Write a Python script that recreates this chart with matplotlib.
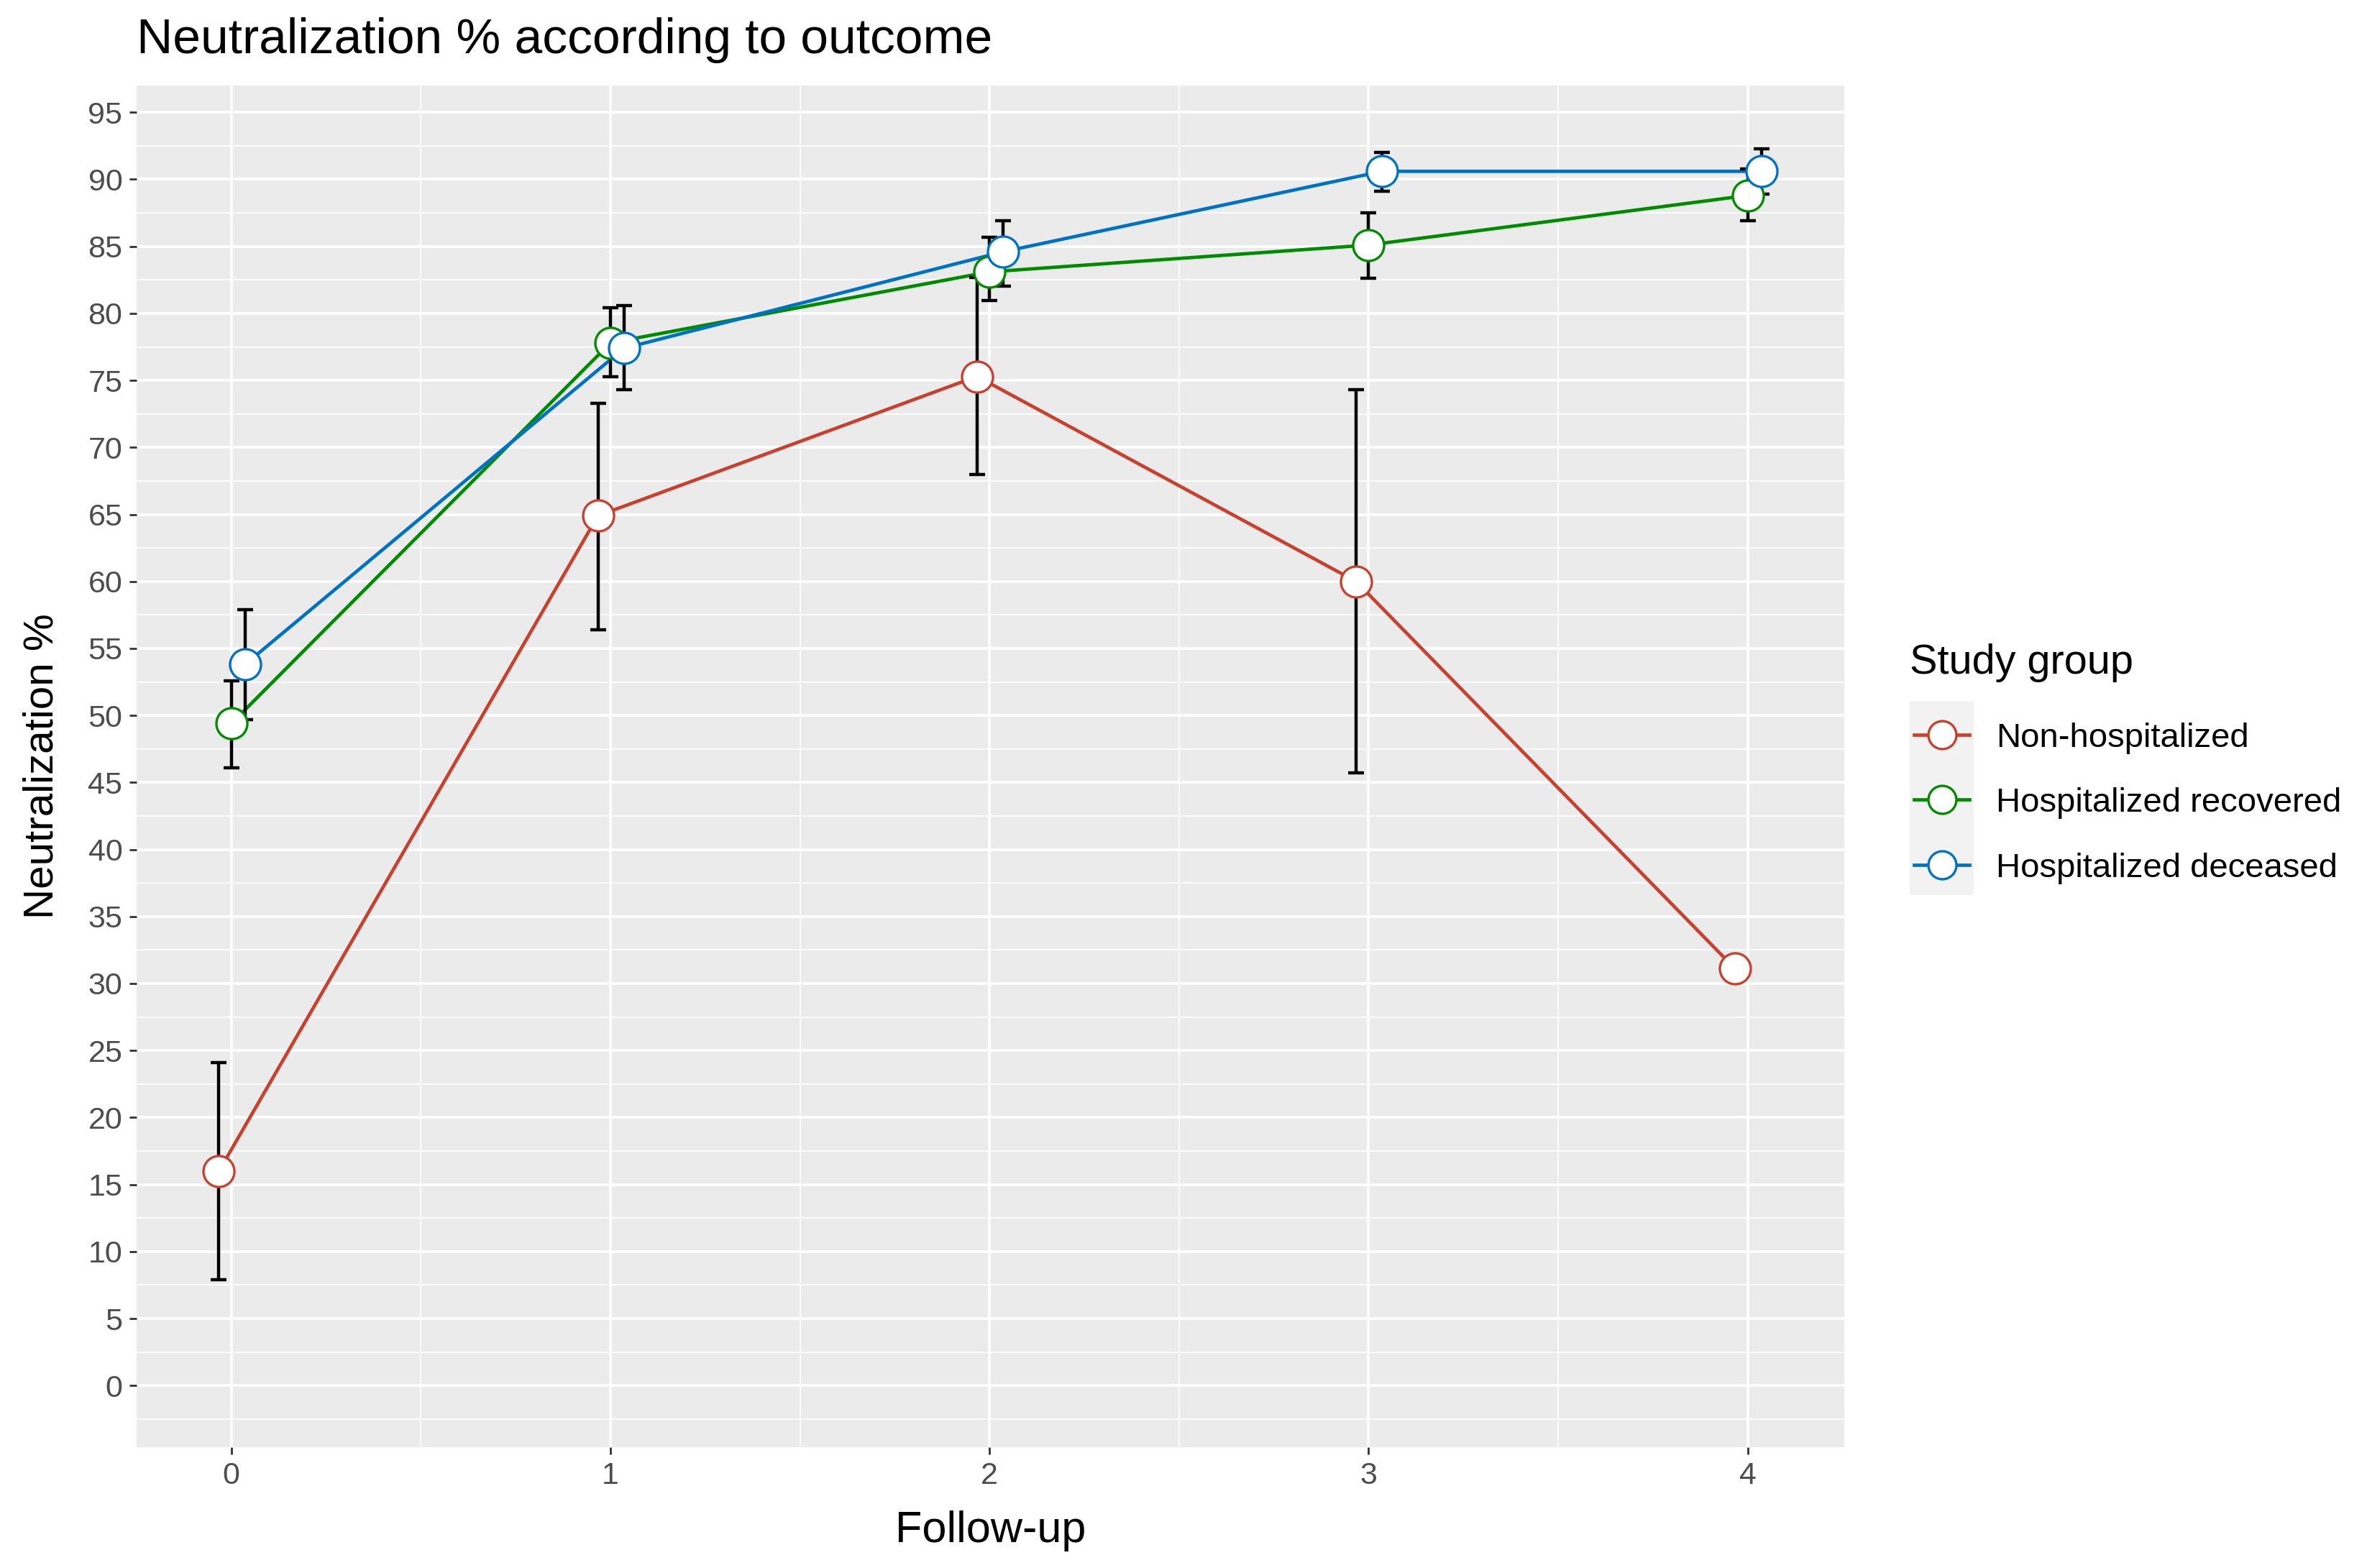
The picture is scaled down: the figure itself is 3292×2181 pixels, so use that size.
import matplotlib
matplotlib.use("Agg")
import matplotlib.pyplot as plt
from matplotlib.lines import Line2D
from matplotlib.patches import Rectangle
from matplotlib.ticker import MultipleLocator

plt.rcParams['font.family'] = ['Liberation Sans', 'DejaVu Sans']

# data
follow_up = [0, 1, 2, 3, 4]
groups = ["Non-hospitalized", "Hospitalized recovered", "Hospitalized deceased"]
colors = ["#C8412F", "#008B00", "#0072C6"]
dodge = [-0.033, 0.0, 0.036]

non_hosp = [16.0, 64.9, 75.3, 60.0, 31.1]
non_hosp_lo = [7.9, 56.4, 68.0, 45.7, None]
non_hosp_hi = [24.1, 73.3, 82.7, 74.3, None]

hosp_rec = [49.4, 77.8, 83.1, 85.1, 88.8]
hosp_rec_lo = [46.1, 75.3, 80.95, 82.6, 86.9]
hosp_rec_hi = [52.6, 80.4, 85.7, 87.5, 90.8]

hosp_dec = [53.8, 77.4, 84.6, 90.6, 90.6]
hosp_dec_lo = [49.7, 74.3, 82.05, 89.1, 88.9]
hosp_dec_hi = [57.9, 80.6, 86.9, 92.0, 92.3]

means = [non_hosp, hosp_rec, hosp_dec]
lows = [non_hosp_lo, hosp_rec_lo, hosp_dec_lo]
highs = [non_hosp_hi, hosp_rec_hi, hosp_dec_hi]

W, H = 3292, 2181
L, R, T, B = 190, 2565, 119, 2013
fig = plt.figure(figsize=(W / 200, H / 200), dpi=200)
ax = fig.add_axes([L / W, 1 - B / H, (R - L) / W, (B - T) / H])
ax.set_facecolor("#EBEBEB")
for s in ax.spines.values():
    s.set_visible(False)

ax.set_xlim(-0.25, 4.255)
ax.set_ylim(-4.6, 97.0)
ax.xaxis.set_major_locator(MultipleLocator(1))
ax.xaxis.set_minor_locator(MultipleLocator(0.5))
ax.yaxis.set_minor_locator(MultipleLocator(2.5))
ax.set_yticks(range(0, 96, 5))
ax.grid(which="major", color="white", linewidth=1.3)
ax.grid(which="minor", color="white", linewidth=0.6)
ax.set_axisbelow(True)
ax.tick_params(which="major", length=3.6, width=1.0, color="#333333",
               labelsize=15.5, labelcolor="#4D4D4D", pad=3.5)
ax.tick_params(which="minor", length=0)

for m, lo, hi, col, dx in zip(means, lows, highs, colors, dodge):
    xs = [x + dx for x in follow_up]
    ax.plot(xs, m, color=col, linewidth=1.7, zorder=2)
    ex = [x for x, l in zip(xs, lo) if l is not None]
    ey = [v for v, l in zip(m, lo) if l is not None]
    elo = [v - l for v, l in zip(m, lo) if l is not None]
    ehi = [h - v for v, h in zip(m, hi) if h is not None]
    ax.errorbar(ex, ey, yerr=[elo, ehi], fmt="none", ecolor="black",
                elinewidth=1.6, capsize=3.8, capthick=1.6, zorder=3)
    ax.plot(xs, m, linestyle="none", marker="o", markersize=15.5,
            markerfacecolor="white", markeredgecolor=col, markeredgewidth=1.2,
            zorder=4)

fig.text((L + R) / 2 / W, 1 - 2129 / H, "Follow-up", fontsize=22,
         ha="center", va="center")
fig.text(59 / W, 1 - (T + B) / 2 / H, "Neutralization %", fontsize=21,
         ha="center", va="center", rotation=90)
fig.text(L / W, 1 - 74 / H, "Neutralization % according to outcome",
         fontsize=25, ha="left", va="baseline")

# legend
lx = 2656
fig.text(lx / W, 1 - 937 / H, "Study group", fontsize=20.8, ha="left", va="baseline")
fig.patches.append(Rectangle((lx / W, 1 - 1245 / H), 89 / W, 270 / H,
                             transform=fig.transFigure, facecolor="#F2F2F2",
                             edgecolor="none"))
row_y = [1022, 1112, 1203]
for lab, col, yy in zip(groups, colors, row_y):
    fig.lines.append(Line2D([(lx + 6) / W, (lx + 83) / W], [1 - yy / H, 1 - yy / H],
                            transform=fig.transFigure, color=col, linewidth=1.7))
    fig.lines.append(Line2D([(lx + 44.5) / W], [1 - yy / H], transform=fig.transFigure,
                            marker="o", markersize=14, markerfacecolor="white",
                            markeredgecolor=col, markeredgewidth=1.2))
    fig.text((lx + 120) / W, 1 - (yy + 17) / H, lab, fontsize=17,
             ha="left", va="baseline")

fig.savefig("out.png", dpi=200, facecolor="white")
